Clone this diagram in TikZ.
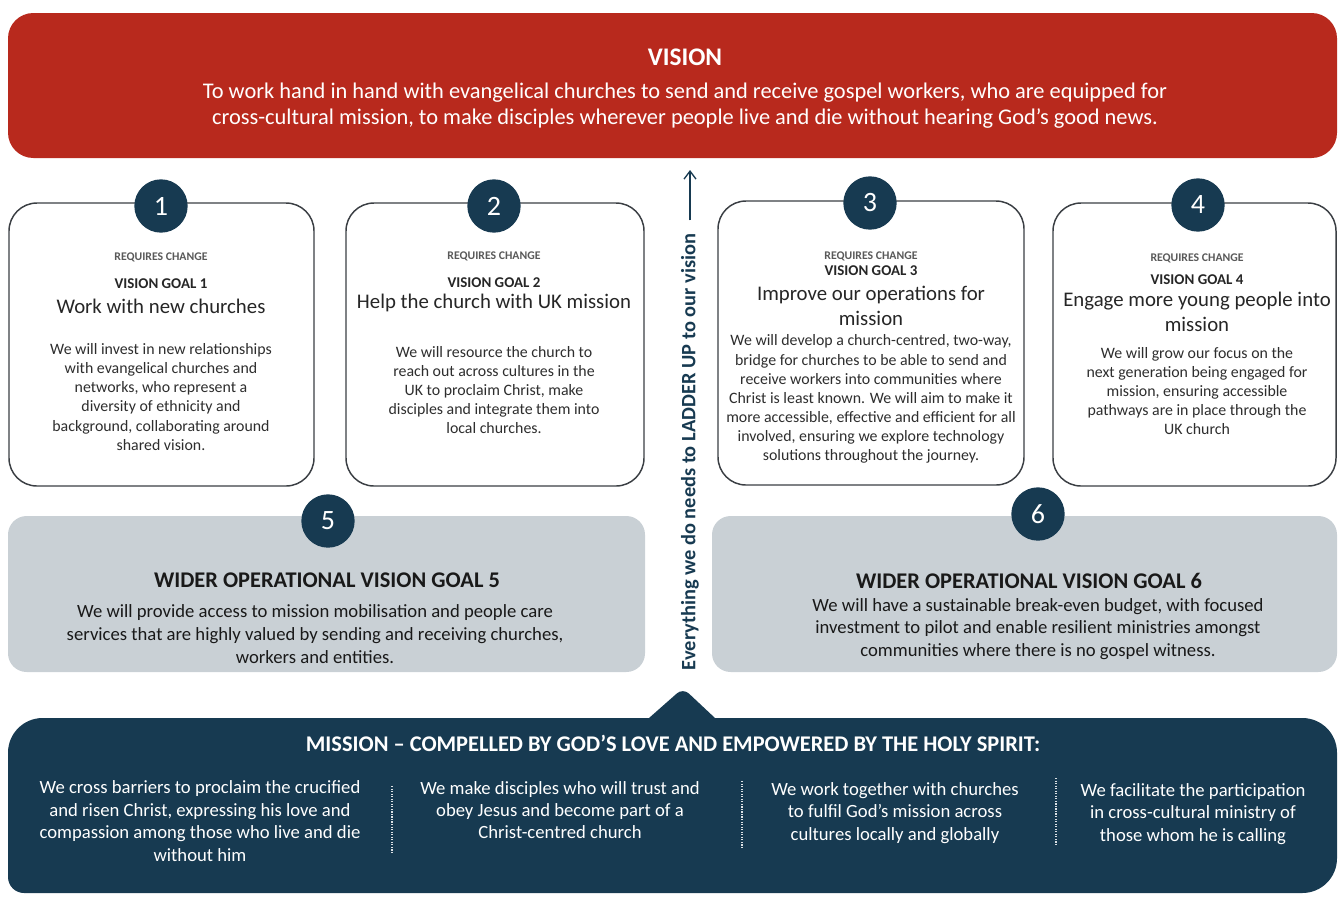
\documentclass[tikz,border=0pt]{standalone}
\usepackage{fontspec}
\setmainfont{Carlito}
\usetikzlibrary{arrows.meta}
\definecolor{visionred}{HTML}{B8291D}
\definecolor{missionblue}{HTML}{173A51}
\definecolor{widergrey}{HTML}{C9D0D5}
\definecolor{boxline}{HTML}{3B3F44}
\definecolor{bodytext}{HTML}{2E2E2E}
\begin{document}
\begin{tikzpicture}[x=0.75pt, y=-0.75pt,
  goalbox/.style={draw=boxline, line width=1.1pt, fill=white, rounded corners=21pt},
  widerbox/.style={fill=widergrey, rounded corners=14pt},
  numdot/.style={circle, fill=missionblue, text=white, minimum size=40pt, inner sep=0pt, font=\fontsize{21}{21}\selectfont},
  reqtext/.style={text=black!65, font=\bfseries\fontsize{8.8}{9}\selectfont},
  goaltag/.style={text=black!85, font=\bfseries\fontsize{11.2}{12}\selectfont},
  goalhead/.style={text=black!85, align=center, font=\fontsize{15.6}{18.5}\selectfont},
  goalbody/.style={text=bodytext, align=center, font=\fontsize{11.9}{14.3}\selectfont},
  widerhead/.style={text=black!90, font=\bfseries\fontsize{16.8}{18}\selectfont},
  widerbody/.style={text=black!90, align=center, font=\fontsize{14}{17}\selectfont},
  missionbody/.style={text=white, align=center, font=\fontsize{14}{16.8}\selectfont},
  sepline/.style={white!85!missionblue, densely dotted, line width=0.9pt}
]
  \useasboundingbox (0,0) rectangle (1338,897);

  % vision banner
  \fill[visionred, rounded corners=19pt] (8,13) rectangle (1337,158);
  \node[text=white, font=\bfseries\fontsize{19}{20}\selectfont] (visiontitle) at (685,57) {VISION};
  \node[text=white, align=center, font=\fontsize{16.8}{19.5}\selectfont] (visiontext) at (685,106)
    {To work hand in hand with evangelical churches to send and receive gospel workers, who are equipped for\\
     cross-cultural mission, to make disciples wherever people live and die without hearing God’s good news.};

  % goal boxes
  \draw[goalbox] (9,203) rectangle (314,486);
  \draw[goalbox] (346,203) rectangle (644,486);
  \draw[goalbox] (718,201) rectangle (1024,485);
  \draw[goalbox] (1053,203) rectangle (1336,486);

  \node[numdot] (num1) at (161,206) {1};
  \node[numdot] (num2) at (494,206) {2};
  \node[numdot] (num3) at (870,203) {3};
  \node[numdot] (num4) at (1198,205) {4};

  \node[reqtext] (req1) at (161,257) {REQUIRES CHANGE};
  \node[goaltag] (tag1) at (161,284) {VISION GOAL 1};
  \node[goalhead] (head1) at (161,306) {Work with new churches};
  \node[goalbody] (body1) at (161,397) {We will invest in new relationships\\with evangelical churches and\\networks, who represent a\\diversity of ethnicity and\\background, collaborating around\\shared vision.};

  \node[reqtext] (req2) at (494,256) {REQUIRES CHANGE};
  \node[goaltag] (tag2) at (494,283) {VISION GOAL 2};
  \node[goalhead] (head2) at (494,303) {Help the church with UK mission};
  \node[goalbody] (body2) at (494,390) {We will resource the church to\\reach out across cultures in the\\UK to proclaim Christ, make\\disciples and integrate them into\\local churches.};

  \node[reqtext] (req3) at (871,256) {REQUIRES CHANGE};
  \node[goaltag] (tag3) at (871,271) {VISION GOAL 3};
  \node[goalhead] (head3) at (871,306) {Improve our operations for\\mission};
  \node[goalbody] (body3) at (871,399) {We will develop a church-centred, two-way,\\bridge for churches to be able to send and\\receive workers into communities where\\Christ is least known. We will aim to make it\\more accessible, effective and efficient for all\\involved, ensuring we explore technology\\solutions throughout the journey.};

  \node[reqtext] (req4) at (1197,258) {REQUIRES CHANGE};
  \node[goaltag] (tag4) at (1197,280) {VISION GOAL 4};
  \node[goalhead] (head4) at (1197,312) {Engage more young people into\\mission};
  \node[goalbody] (body4) at (1197,391) {We will grow our focus on the\\next generation being engaged for\\mission, ensuring accessible\\pathways are in place through the\\UK church};

  % wider operational goals
  \fill[widerbox] (8,516) rectangle (645,672);
  \fill[widerbox] (712,516) rectangle (1337,672);
  \node[numdot] (num5) at (328,521) {5};
  \node[numdot] (num6) at (1038,514) {6};
  \node[widerhead] (head5) at (327,580) {WIDER OPERATIONAL VISION GOAL 5};
  \node[widerbody] (body5) at (315,634) {We will provide access to mission mobilisation and people care\\services that are highly valued by sending and receiving churches,\\workers and entities.};
  \node[widerhead] (head6) at (1029,581) {WIDER OPERATIONAL VISION GOAL 6};
  \node[widerbody] (body6) at (1038,629) {We will have a sustainable break-even budget, with focused\\investment to pilot and enable resilient ministries amongst\\communities where there is no gospel witness.};

  % ladder up arrow
  \node[rotate=90, text=missionblue, inner sep=0pt, font=\bfseries\fontsize{15.3}{16}\selectfont] (ladder) at (690,452) {Everything we do needs to LADDER UP to our vision};
  \coordinate (laddertip) at (690,170);
  \draw[missionblue, line width=1pt, -{Straight Barb[length=6pt, width=9pt]}, shorten <=10pt] (ladder.east) -- (laddertip);

  % mission band
  \fill[missionblue] (8,870) [rounded corners=26pt] -- (8,718) [sharp corners] -- (649,718)
    [rounded corners=6pt] -- (683,688) [sharp corners] -- (715,718) [rounded corners=26pt] -- (1337,718)
    -- (1337,893) [rounded corners=12pt] -- (8,893) [sharp corners] -- cycle;
  \node[text=white, font=\bfseries\fontsize{16.8}{18}\selectfont] (missiontitle) at (673,743) {MISSION – COMPELLED BY GOD’S LOVE AND EMPOWERED BY THE HOLY SPIRIT:};
  \node[missionbody] (col1) at (200,821) {We cross barriers to proclaim the crucified\\and risen Christ, expressing his love and\\compassion among those who live and die\\without him};
  \node[missionbody] (col2) at (560,810) {We make disciples who will trust and\\obey Jesus and become part of a\\Christ-centred church};
  \node[missionbody] (col3) at (895,813) {We work together with churches\\to fulfil God’s mission across\\cultures locally and globally};
  \node[missionbody] (col4) at (1193,814) {We facilitate the participation\\in cross-cultural ministry of\\those whom he is calling};
  \draw[sepline] (392,786) -- (392,852);
  \draw[sepline] (742,781) -- (742,848);
  \draw[sepline] (1056,778) -- (1056,844);
\end{tikzpicture}
\end{document}
